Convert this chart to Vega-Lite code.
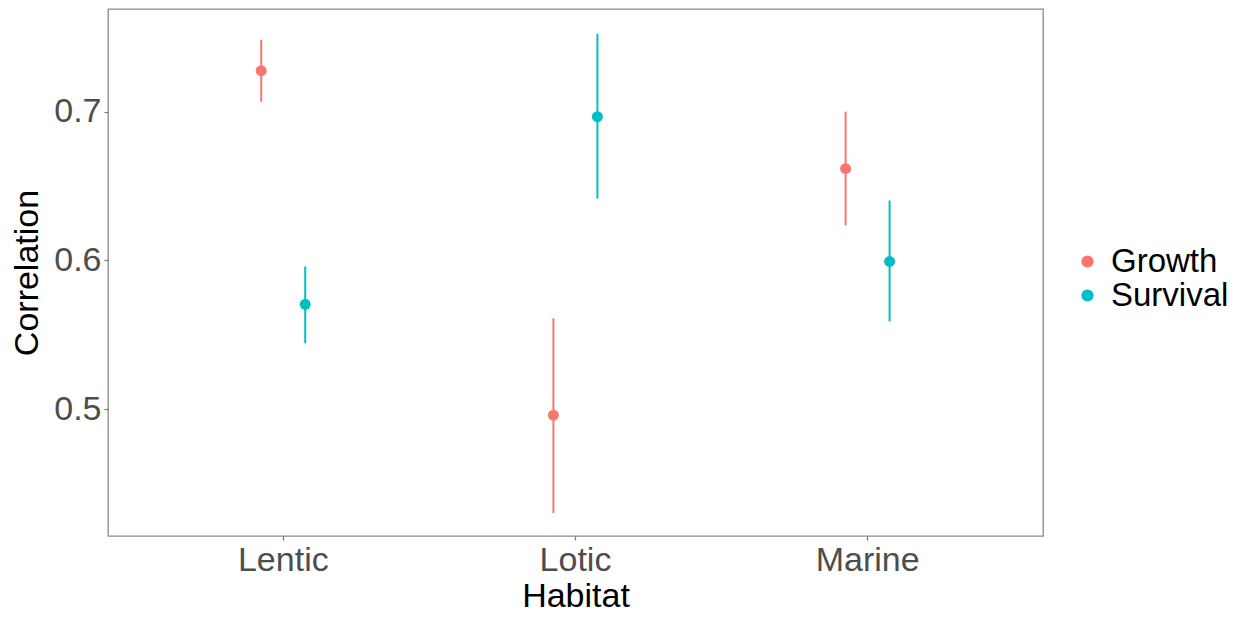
{
  "$schema": "https://vega.github.io/schema/vega-lite/v6.json",
  "width": 935,
  "height": 527,
  "autosize": {"type": "none"},
  "padding": {"left": 108, "top": 9, "right": 205, "bottom": 83},
  "background": "white",
  "data": {
    "values": [
      {"Habitat": "Lentic", "Type": "Growth", "r": 0.7275, "lo": 0.7067, "hi": 0.7483},
      {"Habitat": "Lentic", "Type": "Survival", "r": 0.5705, "lo": 0.5443, "hi": 0.5960},
      {"Habitat": "Lotic", "Type": "Growth", "r": 0.4960, "lo": 0.4302, "hi": 0.5611},
      {"Habitat": "Lotic", "Type": "Survival", "r": 0.6966, "lo": 0.6416, "hi": 0.7523},
      {"Habitat": "Marine", "Type": "Growth", "r": 0.6617, "lo": 0.6235, "hi": 0.7000},
      {"Habitat": "Marine", "Type": "Survival", "r": 0.5993, "lo": 0.5591, "hi": 0.6403}
    ]
  },
  "encoding": {
    "x": {
      "field": "Habitat",
      "type": "nominal",
      "scale": {"paddingInner": 0, "paddingOuter": 0.1},
      "axis": {"title": "Habitat", "labelAngle": 0, "titlePadding": 2}
    },
    "xOffset": {
      "field": "Type",
      "type": "nominal",
      "scale": {"paddingInner": 0, "paddingOuter": 0, "range": [102, 190]}
    },
    "color": {
      "field": "Type",
      "type": "nominal",
      "scale": {"domain": ["Growth", "Survival"], "range": ["#F8766D", "#00BFC4"]},
      "legend": {
        "title": null,
        "orient": "none",
        "legendX": 963,
        "legendY": 236,
        "symbolType": "circle",
        "symbolSize": 150,
        "symbolStrokeWidth": 0,
        "symbolOpacity": 1,
        "labelFontSize": 33,
        "labelFont": "Liberation Sans",
        "labelColor": "black",
        "labelOffset": 7,
        "rowPadding": 0,
        "padding": 0
      }
    }
  },
  "layer": [
    {
      "mark": {"type": "rule", "strokeWidth": 2},
      "encoding": {
        "y": {
          "field": "lo",
          "type": "quantitative",
          "scale": {"domain": [0.4148, 0.769], "nice": false, "zero": false},
          "axis": {"title": "Correlation", "values": [0.5, 0.6, 0.7], "format": ".1f", "titlePadding": 9}
        },
        "y2": {"field": "hi"}
      }
    },
    {
      "mark": {"type": "point", "filled": true, "size": 120, "opacity": 1},
      "encoding": {
        "y": {"field": "r", "type": "quantitative"}
      }
    }
  ],
  "config": {
    "font": "Liberation Sans",
    "view": {"stroke": "#8a8a8a", "strokeWidth": 1.3},
    "axis": {
      "domain": false,
      "grid": false,
      "ticks": true,
      "tickSize": 4,
      "tickColor": "#777777",
      "tickWidth": 1.2,
      "labelFont": "Liberation Sans",
      "labelFontSize": 34,
      "labelColor": "#4d4d4d",
      "labelPadding": 3,
      "titleFont": "Liberation Sans",
      "titleFontSize": 34,
      "titleFontWeight": "normal",
      "titleColor": "black"
    }
  }
}
